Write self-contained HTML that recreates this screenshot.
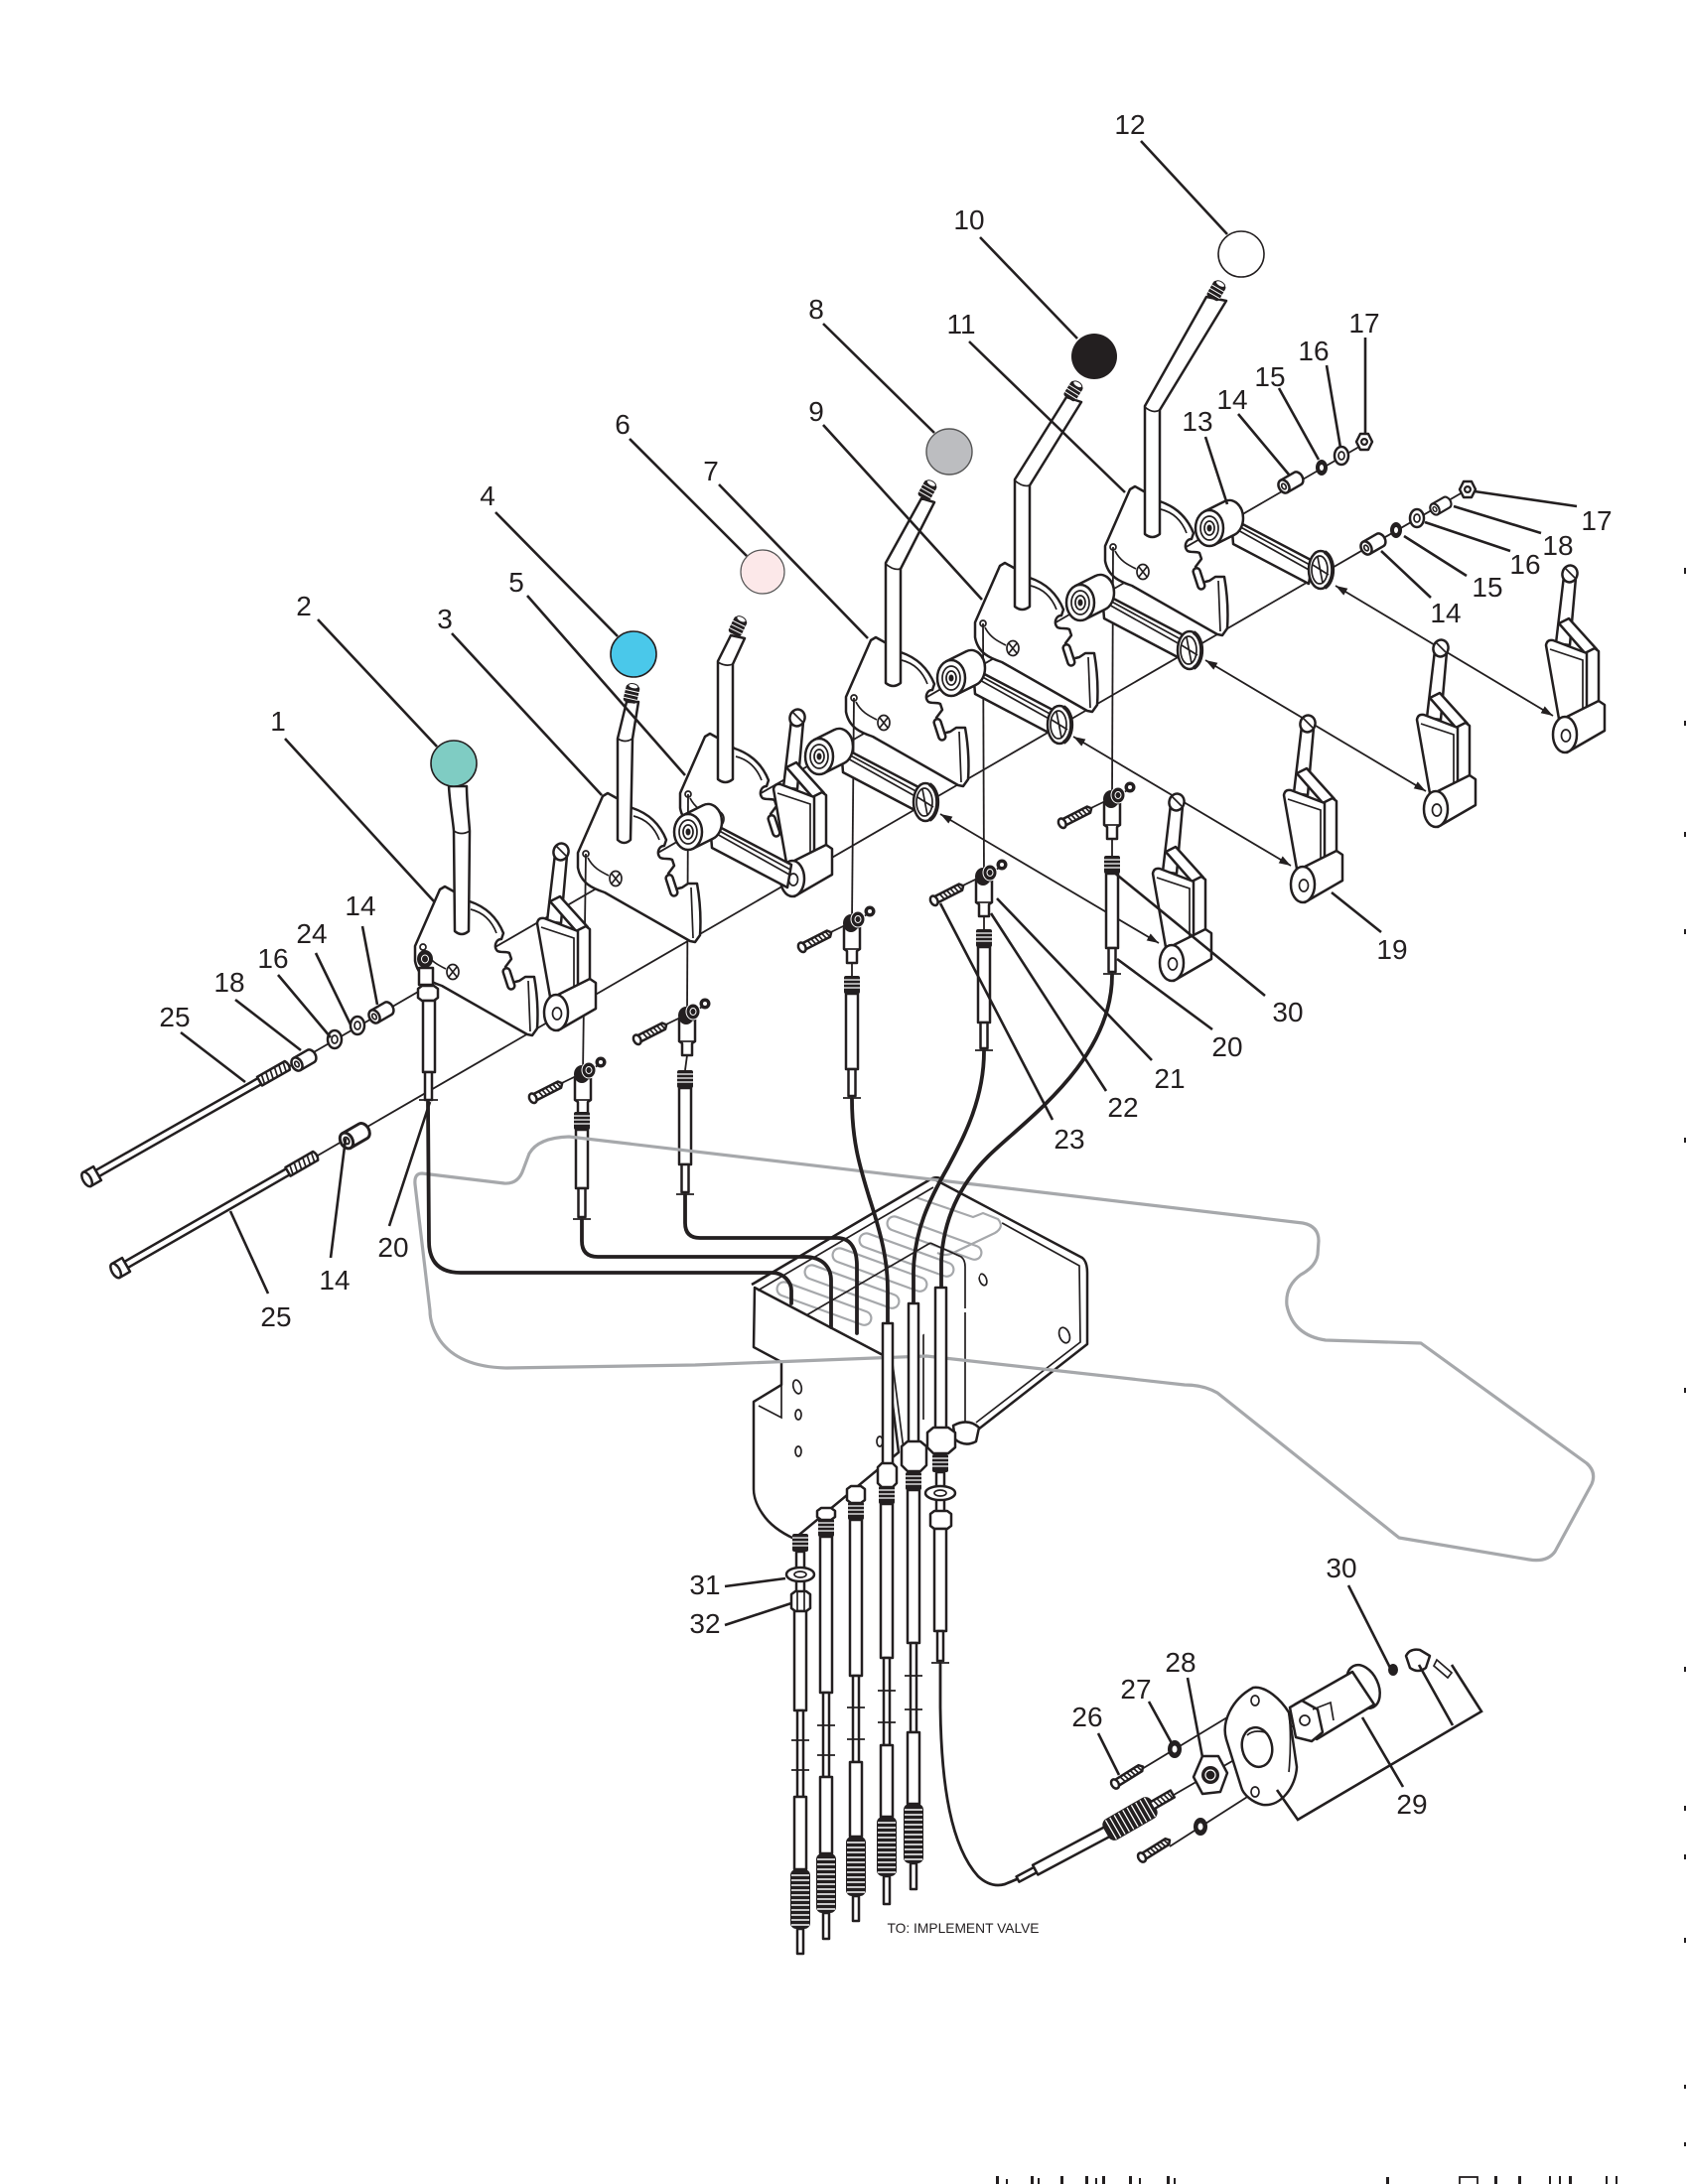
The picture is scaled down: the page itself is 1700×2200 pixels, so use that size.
<!DOCTYPE html>
<html><head><meta charset="utf-8"><style>
html,body{margin:0;padding:0;background:#fff}
svg{display:block}
.o{fill:#fff;stroke:#231f20;stroke-width:2.5;stroke-linejoin:round}
.t{fill:none;stroke:#231f20;stroke-width:1.7}
.l{fill:none;stroke:#231f20;stroke-width:2.6}
.a{fill:none;stroke:#231f20;stroke-width:1.8}
.c{fill:none;stroke:#231f20;stroke-width:3.8;stroke-linecap:round;stroke-linejoin:round}
.d{fill:#231f20}
.g{fill:none;stroke:#a6a8ab;stroke-width:3.2;stroke-linejoin:round}
.gs{fill:none;stroke:#a6a8ab;stroke-width:2.2}
text{font-family:"Liberation Sans",sans-serif;font-size:28px;fill:#231f20;text-anchor:middle}
.sm{font-size:14px}
</style></head><body>
<svg width="1700" height="2200" viewBox="0 0 1700 2200" xmlns="http://www.w3.org/2000/svg">
<defs>
<marker id="ae" markerWidth="14" markerHeight="10" refX="12" refY="4" orient="auto" markerUnits="userSpaceOnUse"><path d="M0,0 L12,4 L0,8 Z" fill="#231f20"/></marker>
<marker id="as" markerWidth="14" markerHeight="10" refX="0" refY="4" orient="auto" markerUnits="userSpaceOnUse"><path d="M12,0 L0,4 L12,8 Z" fill="#231f20"/></marker>
<g id="plate">
<path class="o" d="M0,0 L5,-3 L14,2 L30,12 C42,16 56,24 64,44 L62,50 C56,50 54,58 58,62 C62,64 66,62 70,64 L72,70 L66,78 L72,94 L80,92 L86,88 L95,88 C98,105 99,125 98,140 L93,147 L88,146 L2,97 C-10,93 -22,88 -25,72 L-25,57 Z"/>
<path class="t" d="M31,20 C43,23 52,31 57,44"/>
<path class="t" d="M89,92 L91,143"/>
<rect class="o" x="66" y="79" width="7" height="22" rx="3.5" transform="rotate(-18 69 90)"/>
<circle class="t" cx="-17" cy="58" r="3"/>
<path class="t" d="M-15,62 C-10,72 -2,76 6,80"/>
<ellipse class="t" cx="13" cy="83" rx="6" ry="7.5"/>
<path class="t" d="M9,78 L17,88 M17,78 L9,88"/>
</g>
<g id="hub">
<path class="o" d="M22,-10 L104,33 L100,56 L24,16 Z"/>
<path class="t" d="M26,-4 L103,38 M27,1 L102,43"/>
<path class="o" d="M-5.1,-16.8 L14.9,-26.8 A14,18 0 0 1 34,-10 A14,18 0 0 1 25.1,6.8 L5.1,16.8 Z"/>
<ellipse class="o" cx="0" cy="0" rx="14" ry="18"/>
<ellipse class="t" cx="0" cy="0" rx="9" ry="12"/>
<ellipse class="t" cx="0" cy="0" rx="5" ry="7"/>
<ellipse class="d" cx="0" cy="0" rx="2.5" ry="3.5"/>
</g>
<g id="disc">
<ellipse class="o" cx="0" cy="0" rx="12" ry="19"/>
<path d="M4,-18 A12,19 0 0 1 4,18" fill="none" stroke="#231f20" stroke-width="4"/>
<ellipse class="t" cx="-1" cy="0" rx="8" ry="14"/>
<path class="t" d="M-8,-5 L8,5 M-3,-13 L2,13"/>
</g>
<g id="brk">
<path class="o" d="M-9,-92 L-1,-160 L11,-158 L5,-90 Z"/>
<ellipse class="o" cx="5" cy="-162" rx="7.5" ry="8.5" transform="rotate(15 5 -162)"/>
<path class="t" d="M0,-168 L10,-158"/>
<path class="o" d="M-6,-112 L4,-117 L32,-86 L22,-80 Z"/>
<path class="o" d="M20,-82 L30,-87 L34,-84 L34,-6 L22,-2 Z"/>
<path class="o" d="M-19,-90 Q-18,-96 -12,-95 L22,-82 L22,-12 L-6,-16 Z"/>
<path class="t" d="M-15,-86 L18,-75 L18,-14"/>
<path class="o" d="M-2,-16 L34,-34 L40,-30 L40,-4 L2,18 Z"/>
<ellipse class="o" cx="0" cy="0" rx="12" ry="18"/>
<ellipse class="t" cx="1" cy="1" rx="4.5" ry="6"/>
</g>
<g id="sp">
<path class="o" d="M0,-7 L16,-7 A5,7 0 0 1 16,7 L0,7 Z"/>
<ellipse class="o" cx="0" cy="0" rx="5" ry="7"/>
<ellipse class="t" cx="0" cy="0" rx="2" ry="3"/>
</g>
<g id="wr"><ellipse class="o" rx="7" ry="9"/><ellipse class="t" rx="3" ry="4"/></g>
<g id="wd"><ellipse class="d" rx="6" ry="8"/><ellipse fill="#fff" rx="2" ry="3"/></g>
<g id="nut"><path class="o" d="M-4,-8 L4,-8 L8,0 L4,8 L-4,8 L-8,0 Z"/><circle class="d" r="4"/><circle fill="#fff" r="1.8"/></g>
<g id="bolt">
<path class="o" d="M0,-3.5 L190,-3.5 L190,3.5 L0,3.5 Z"/>
<path class="o" d="M188,-5 L220,-5 Q223,0 220,5 L188,5 Z"/>
<path class="t" d="M193,-5 L191,5 M198,-5 L196,5 M203,-5 L201,5 M208,-5 L206,5 M213,-5 L211,5 M218,-5 L216,5"/>
<path class="o" d="M-12,-8 L0,-8 L0,8 L-12,8 Z"/>
<ellipse class="o" cx="-12" cy="0" rx="4" ry="8"/>
</g>
<g id="scr">
<path class="o" d="M0,-3.5 L30,-3.5 L33,0 L30,3.5 L0,3.5 Z"/>
<ellipse class="o" cx="0" cy="0" rx="3.5" ry="5"/>
<path class="t" d="M8,-3.5 l2,7 M12,-3.5 l2,7 M16,-3.5 l2,7 M20,-3.5 l2,7 M24,-3.5 l2,7 M28,-3.5 l2,7"/>
</g>
<g id="bj">
<line class="a" x1="-50" y1="23" x2="22" y2="-12"/>
<g transform="translate(-36,17) rotate(-27)"><use href="#scr" x="-16" y="0"/></g>
<path class="o" d="M-8,4 L-8,26 L-5,28 L-5,40 L5,40 L5,28 L8,26 L8,4 Z"/>
<line class="t" x1="-8" y1="26" x2="8" y2="26"/>
<ellipse cx="-1" cy="0" rx="8" ry="9" fill="#231f20"/>
<ellipse cx="6" cy="-4" rx="7" ry="8" fill="#231f20" stroke="#fff" stroke-width="1"/>
<ellipse cx="6" cy="-4" rx="3" ry="3.5" fill="none" stroke="#fff" stroke-width="1"/>
<circle cx="18" cy="-12" r="5.5" fill="#231f20"/>
<circle cx="18" cy="-12" r="2" fill="#fff"/>
</g>
<g id="fit"><rect x="-8" y="0" width="16" height="18" rx="2" class="d"/><path d="M-8,4H8M-8,8H8M-8,12H8" stroke="#fff" stroke-width="1.2"/></g>
<g id="boot"><rect x="-10" y="0" width="20" height="60" rx="6" class="d"/><path d="M-9,6H9M-9,11H9M-9,16H9M-9,21H9M-9,26H9M-9,31H9M-9,36H9M-9,41H9M-9,46H9M-9,51H9M-9,56H9" stroke="#fff" stroke-width="1.4"/></g>
<g id="tip"><rect x="-7" y="-9" width="14" height="18" rx="3" class="d"/><path d="M-7,-3 H7 M-7,1 H7 M-7,5 H7" stroke="#fff" stroke-width="1"/><ellipse cx="0" cy="-8" rx="5" ry="2.5" fill="#fff" stroke="#231f20" stroke-width="1"/></g>
</defs>

<!-- axis lines -->
<line class="a" x1="283" y1="1079" x2="1374" y2="447"/>
<line class="a" x1="313" y1="1168" x2="1478" y2="493"/>

<!-- arrow lines to brackets -->
<line class="a" x1="947" y1="820" x2="1167" y2="950" marker-start="url(#as)" marker-end="url(#ae)"/>
<line class="a" x1="1081" y1="742" x2="1300" y2="872" marker-start="url(#as)" marker-end="url(#ae)"/>
<line class="a" x1="1214" y1="665" x2="1436" y2="797" marker-start="url(#as)" marker-end="url(#ae)"/>
<line class="a" x1="1345" y1="590" x2="1564" y2="721" marker-start="url(#as)" marker-end="url(#ae)"/>

<!-- lever assemblies back to front -->
<use href="#plate" x="1138" y="493"/>
<line class="a" x1="1121" y1="551" x2="1120" y2="805"/>
<use href="#hub" x="1218" y="532"/>
<use href="#disc" x="1330" y="574"/>
<use href="#plate" x="1007" y="570"/>
<line class="a" x1="990" y1="628" x2="991" y2="883"/>
<use href="#hub" x="1088" y="607"/>
<use href="#disc" x="1198" y="655"/>
<use href="#plate" x="877" y="645"/>
<line class="a" x1="860" y1="703" x2="858" y2="930"/>
<use href="#hub" x="958" y="683"/>
<use href="#disc" x="1067" y="730"/>
<use href="#plate" x="710" y="742"/>
<line class="a" x1="693" y1="800" x2="692" y2="1023"/>
<use href="#brk" x="798" y="885"/>
<use href="#hub" x="825" y="762"/>
<use href="#disc" x="932" y="808"/>
<use href="#plate" x="607" y="802"/>
<line class="a" x1="590" y1="860" x2="587" y2="1082"/>
<use href="#hub" x="693" y="838"/>
<use href="#plate" x="443" y="896"/>
<use href="#brk" x="560" y="1020"/>

<!-- brackets 19 row -->
<use href="#brk" x="1576" y="740"/>
<use href="#brk" x="1446" y="815"/>
<use href="#brk" x="1312" y="891"/>
<use href="#brk" x="1180" y="970"/>

<!-- rods -->
<path class="o" d="M452,792 C453,810 456,825 457,837 L458,938 Q465,944 472,938 L473,837 C472,822 470,808 470,792 Z"/>
<path class="t" d="M457,837 Q465,842 473,837"/>
<path class="o" d="M631,707 L622,744 L622,846 Q628.5,852 635,846 L637,744 L643,707 Z"/>
<path class="t" d="M622,744 Q630,749 637,744"/>
<path class="o" d="M736,640 L723,666 L723,785 Q730.5,791 738,785 L738,669 L750,643 Z"/>
<path class="t" d="M723,667 Q731,672 738,669"/>
<path class="o" d="M928,502 L892,567 L892,688 Q899.5,694 907,688 L907,573 L941,506 Z"/>
<path class="t" d="M892,568 Q900,575 907,573"/>
<path class="o" d="M1074,400 L1022,483 L1022,611 Q1029.5,617 1037,611 L1037,489 L1089,405 Z"/>
<path class="t" d="M1022,484 Q1030,491 1037,489"/>
<path class="o" d="M1215,299 L1153,409 L1153,538 Q1160.5,544 1168,538 L1168,413 L1235,303 Z"/>
<path class="t" d="M1153,410 Q1161,417 1168,413"/>
<use href="#tip" transform="translate(636,699) rotate(13)"/>
<use href="#tip" transform="translate(743,631) rotate(26)"/>
<use href="#tip" transform="translate(934,494) rotate(29)"/>
<use href="#tip" transform="translate(1081,394) rotate(32)"/>
<use href="#tip" transform="translate(1225,293) rotate(30)"/>

<!-- knobs -->
<circle cx="457" cy="769" r="23" fill="#7fccc3" stroke="#231f20" stroke-width="1.6"/>
<circle cx="638" cy="659" r="23" fill="#4ac8ea" stroke="#231f20" stroke-width="1.6"/>
<circle cx="768" cy="576" r="22" fill="#fce8e9" stroke="#555" stroke-width="1.2"/>
<circle cx="956" cy="455" r="23" fill="#bcbdc0" stroke="#555" stroke-width="1.4"/>
<circle cx="1102" cy="359" r="23" fill="#231f20"/>
<circle cx="1250" cy="256" r="23" fill="#fff" stroke="#231f20" stroke-width="1.6"/>

<!-- ball joint clusters -->
<use href="#bj" x="587" y="1082"/>
<use href="#bj" x="692" y="1023"/>
<use href="#bj" x="858" y="930"/>
<use href="#bj" x="991" y="883"/>
<use href="#bj" x="1120" y="805"/>
<!-- lever A joint -->
<path class="o" d="M422,975 L422,992 L436,992 L436,975 Z"/>
<ellipse cx="428" cy="966" rx="8" ry="9" fill="#231f20"/>
<ellipse cx="428" cy="966" rx="3.5" ry="4" fill="none" stroke="#fff"/>
<path class="o" d="M421,996 L425,993 L437,993 L441,996 L441,1005 L437,1008 L425,1008 L421,1005 Z"/>
<rect class="o" x="426" y="1008" width="12" height="72"/>
<rect class="o" x="428" y="1080" width="7" height="28"/>
<line class="t" x1="422" y1="1108" x2="441" y2="1108"/>

<!-- fittings under clusters -->
<line class="a" x1="692" y1="1063" x2="690" y2="1078"/>
<line class="a" x1="858" y1="970" x2="858" y2="983"/>
<line class="a" x1="991" y1="923" x2="991" y2="936"/>
<line class="a" x1="1120" y1="845" x2="1120" y2="862"/>
<use href="#fit" x="586" y="1120"/>
<rect class="o" x="580" y="1138" width="12" height="59"/><rect class="o" x="582.5" y="1197" width="7" height="29"/><line class="t" x1="577" y1="1228" x2="595" y2="1228"/>
<use href="#fit" x="690" y="1078"/>
<rect class="o" x="684" y="1096" width="12" height="77"/><rect class="o" x="686.5" y="1173" width="7" height="28"/><line class="t" x1="681" y1="1203" x2="699" y2="1203"/>
<use href="#fit" x="858" y="983"/>
<rect class="o" x="852" y="1001" width="12" height="76"/><rect class="o" x="854.5" y="1077" width="7" height="27"/><line class="t" x1="849" y1="1106" x2="867" y2="1106"/>
<use href="#fit" x="991" y="936"/>
<rect class="o" x="985" y="954" width="12" height="76"/><rect class="o" x="987.5" y="1030" width="7" height="26"/><line class="t" x1="982" y1="1058" x2="1000" y2="1058"/>
<use href="#fit" x="1120" y="862"/>
<rect class="o" x="1114" y="880" width="12" height="75"/><rect class="o" x="1116.5" y="955" width="7" height="24"/><line class="t" x1="1111" y1="981" x2="1129" y2="981"/>

<!-- small hardware -->
<use href="#sp" transform="translate(377,1024) rotate(-30)"/>
<use href="#wr" x="360" y="1033"/>
<use href="#wr" x="337" y="1047"/>
<use href="#sp" transform="translate(299,1072) rotate(-30)"/>
<use href="#sp" transform="translate(349,1149) rotate(-30) scale(1.2)"/>
<use href="#sp" transform="translate(1293,490) rotate(-30)"/>
<use href="#wd" x="1331" y="471"/>
<use href="#wr" x="1351" y="459"/>
<use href="#nut" x="1374" y="445"/>
<use href="#sp" transform="translate(1376,552) rotate(-30)"/>
<use href="#wd" x="1406" y="534"/>
<use href="#wr" x="1427" y="522"/>
<use href="#sp" transform="translate(1445,513) rotate(-30) scale(0.85)"/>
<use href="#nut" x="1478" y="493"/>
<use href="#bolt" transform="translate(98,1182) rotate(-29.6)"/>
<use href="#bolt" transform="translate(127,1274) rotate(-29.9)"/>

<!-- box bracket -->
<path fill="#fff" d="M943,1190 L1090,1268 Q1095,1272 1095,1282 L1095,1354 L985,1440 L930,1430 L930,1230 Z"/>
<path class="o" style="fill:none" d="M943,1189 L1090,1267 Q1095,1271 1095,1282 L1095,1354 L985,1440"/>
<path class="t" d="M946,1197 L1087,1275 L1088,1352 L983,1433"/>
<path class="t" d="M972,1322 L972,1437 M930,1340 L930,1430"/>
<path class="o" d="M960,1436 Q975,1428 986,1438 L983,1452 Q972,1458 962,1450 Z"/>
<ellipse class="t" cx="990" cy="1289" rx="3.5" ry="6" transform="rotate(-20 990 1289)"/>
<ellipse class="t" cx="1072" cy="1345" rx="5" ry="8" transform="rotate(-20 1072 1345)"/>
<path fill="#fff" d="M760,1296 L940,1192 L1010,1230 L972,1318 L893,1367 Z"/>
<g class="gs">
<rect x="0" y="-7" width="100" height="14" rx="7" transform="translate(783,1296) rotate(20)"/>
<rect x="0" y="-7" width="100" height="14" rx="7" transform="translate(811,1279) rotate(20)"/>
<rect x="0" y="-7" width="100" height="14" rx="7" transform="translate(839,1262) rotate(20)"/>
<rect x="0" y="-7" width="100" height="14" rx="7" transform="translate(866,1247) rotate(20)"/>
<rect x="0" y="-7" width="100" height="14" rx="7" transform="translate(894,1230) rotate(20)"/>
<path d="M922,1206 L980,1226 L990,1222 L1005,1228 Q1012,1236 1002,1242 L960,1262 Q952,1266 944,1262"/>
</g>
<path class="t" d="M812,1325 L937,1252 M937,1252 L968,1266 Q972,1269 972,1276 L972,1318"/>
<path class="o" d="M760,1297 L893,1367 L905,1463 L800,1550 Q778,1540 768,1525 Q759,1512 759,1500 L759,1412 L787,1395 L787,1372 L759,1357 Z"/>
<path class="t" d="M787,1395 L787,1428 L764,1416"/>
<path class="t" d="M898,1366 L910,1460"/>
<path d="M757,1294 L937,1188 Q944,1184 950,1189" fill="none" stroke="#231f20" stroke-width="2.6"/>
<path class="t" d="M763,1300 L940,1196"/>
<ellipse class="t" cx="803" cy="1397" rx="4" ry="7" transform="rotate(-15 803 1397)"/>
<ellipse class="t" cx="804" cy="1425" rx="3" ry="5"/>
<ellipse class="t" cx="804" cy="1462" rx="3" ry="5"/>
<ellipse class="t" cx="886" cy="1452" rx="3" ry="5"/>

<!-- gray outline -->
<path class="g" d="M425,1182 L508,1192 Q522,1193 527,1178 L533,1162 Q542,1146 573,1145 L1312,1232 Q1328,1235 1328,1250 L1327,1264 Q1325,1276 1310,1284 Q1294,1296 1296,1315 Q1302,1345 1335,1350 L1431,1353 L1598,1474 Q1608,1483 1603,1495 L1566,1563 Q1558,1574 1540,1571 L1409,1549 L1226,1403 Q1212,1395 1193,1395 L933,1366 L700,1375 L510,1378 Q462,1377 443,1350 Q433,1335 433,1320 L418,1193 Q417,1182 425,1182 Z"/>

<!-- cables -->
<path class="c" d="M431,1110 L432,1250 Q432,1282 464,1282 L777,1282 C790,1282 797,1292 797,1300 L797,1313"/>
<path class="c" d="M586,1229 L586,1250 Q586,1266 602,1266 L810,1266 C830,1266 837,1278 837,1290 L837,1337"/>
<path class="c" d="M690,1204 L690,1232 Q690,1247 705,1247 L843,1247 C858,1247 863,1260 863,1275 L863,1343"/>
<path class="c" d="M858,1107 C858,1150 866,1175 875,1205 C888,1245 894,1270 894,1300 L894,1333"/>
<path class="c" d="M991,1059 C991,1110 968,1150 955,1175 C935,1210 921,1240 920,1280 L920,1313"/>
<path class="c" d="M1120,982 C1120,1070 1030,1130 995,1165 C965,1195 950,1230 948,1270 L948,1297"/>
<rect class="o" x="889" y="1333" width="10" height="142"/>
<rect class="o" x="915" y="1313" width="10" height="142"/>
<rect class="o" x="942" y="1297" width="11" height="143"/>
<path class="o" d="M884,1478 L888,1474 L899,1474 L903,1478 L903,1494 L899,1498 L888,1498 L884,1494 Z"/>
<path class="o" d="M908,1457 L914,1452 L927,1452 L933,1457 L933,1476 L927,1482 L914,1482 L908,1476 Z"/>
<path class="o" d="M934,1443 L940,1438 L955,1438 L962,1443 L962,1458 L955,1464 L940,1464 L934,1458 Z"/>
<path class="o" d="M853,1500 L857,1497 L867,1497 L871,1500 L871,1511 L867,1514 L857,1514 L853,1511 Z"/>
<path class="o" d="M823,1522 L827,1519 L837,1519 L841,1522 L841,1528 L837,1531 L827,1531 L823,1528 Z"/>

<!-- cable columns under box -->
<use href="#fit" x="806" y="1545"/>
<rect class="o" x="802" y="1563" width="8" height="60"/>
<ellipse class="o" cx="806" cy="1586" rx="14" ry="7"/><ellipse class="t" cx="806" cy="1586" rx="6" ry="3"/>
<path class="o" d="M797,1606 L801,1603 L812,1603 L816,1606 L816,1620 L812,1623 L801,1623 L797,1620 Z"/>
<path class="t" d="M803,1604 L803,1622 M810,1604 L810,1622"/>
<rect class="o" x="800" y="1623" width="12" height="100"/>
<rect class="o" x="803" y="1723" width="6" height="87"/>
<line class="t" x1="797" y1="1753" x2="815" y2="1753"/><line class="t" x1="797" y1="1783" x2="815" y2="1783"/>
<rect class="o" x="800" y="1810" width="12" height="73"/>
<use href="#boot" x="806" y="1883"/>
<rect class="o" x="803" y="1943" width="6" height="25"/>

<use href="#fit" x="832" y="1530"/>
<rect class="o" x="826" y="1548" width="12" height="157"/>
<rect class="o" x="829" y="1705" width="6" height="85"/>
<line class="t" x1="823" y1="1738" x2="841" y2="1738"/><line class="t" x1="823" y1="1768" x2="841" y2="1768"/>
<rect class="o" x="826" y="1790" width="12" height="77"/>
<use href="#boot" x="832" y="1867"/>
<rect class="o" x="829" y="1927" width="6" height="26"/>

<use href="#fit" x="862" y="1513"/>
<rect class="o" x="856" y="1531" width="12" height="157"/>
<rect class="o" x="859" y="1688" width="6" height="87"/>
<line class="t" x1="853" y1="1720" x2="871" y2="1720"/><line class="t" x1="853" y1="1752" x2="871" y2="1752"/>
<rect class="o" x="856" y="1775" width="12" height="75"/>
<use href="#boot" x="862" y="1850"/>
<rect class="o" x="859" y="1910" width="6" height="25"/>

<use href="#fit" x="893" y="1497"/>
<rect class="o" x="887" y="1515" width="12" height="155"/>
<rect class="o" x="890" y="1670" width="6" height="88"/>
<line class="t" x1="884" y1="1703" x2="902" y2="1703"/><line class="t" x1="884" y1="1735" x2="902" y2="1735"/>
<rect class="o" x="887" y="1758" width="12" height="72"/>
<use href="#boot" x="893" y="1830"/>
<rect class="o" x="890" y="1890" width="6" height="28"/>

<use href="#fit" x="920" y="1483"/>
<rect class="o" x="914" y="1501" width="12" height="154"/>
<rect class="o" x="917" y="1655" width="6" height="90"/>
<line class="t" x1="911" y1="1688" x2="929" y2="1688"/><line class="t" x1="911" y1="1722" x2="929" y2="1722"/>
<rect class="o" x="914" y="1745" width="12" height="72"/>
<use href="#boot" x="920" y="1817"/>
<rect class="o" x="917" y="1877" width="6" height="26"/>

<use href="#fit" x="947" y="1465"/>
<rect class="o" x="943" y="1483" width="8" height="40"/>
<ellipse class="o" cx="947" cy="1504" rx="15" ry="7"/><ellipse class="t" cx="947" cy="1504" rx="6" ry="3"/>
<path class="o" d="M937,1525 L941,1522 L954,1522 L958,1525 L958,1537 L954,1540 L941,1540 L937,1537 Z"/>
<rect class="o" x="941" y="1540" width="12" height="103"/>
<rect class="o" x="944" y="1643" width="6" height="30"/>
<line class="t" x1="938" y1="1675" x2="956" y2="1675"/>
<path class="c" style="stroke-width:2.8" d="M947,1675 L947,1720 C948,1800 958,1860 985,1890 Q998,1902 1012,1898 L1024,1893"/>

<!-- part 29 assembly -->
<path class="a" d="M1150,1782 L1264,1713 M1178,1860 L1264,1805 M1170,1815 L1312,1733"/>
<g transform="translate(1025,1893) rotate(-28)">
<rect class="o" x="0" y="-3" width="20" height="6"/>
<rect class="o" x="20" y="-5.5" width="83" height="11"/>
</g>
<g transform="translate(1138,1832) rotate(-30)">
<rect x="-28" y="-12" width="56" height="24" rx="7" class="d"/>
<path d="M-22,-11V11M-17,-11V11M-12,-11V11M-7,-11V11M-2,-11V11M3,-11V11M8,-11V11M13,-11V11M18,-11V11M23,-11V11" stroke="#fff" stroke-width="1.3"/>
</g>
<g transform="translate(1160,1819) rotate(-30)">
<rect class="o" x="0" y="-4" width="24" height="8"/>
<path class="t" d="M4,-4 l2,8 M8,-4 l2,8 M12,-4 l2,8 M16,-4 l2,8 M20,-4 l2,8"/>
</g>
<use href="#scr" transform="translate(1123,1797) rotate(-32)"/>
<use href="#scr" transform="translate(1150,1871) rotate(-32)"/>
<g transform="translate(1183,1762)"><ellipse rx="7" ry="9" class="d"/><ellipse rx="2.5" ry="3.5" fill="#fff"/></g>
<g transform="translate(1209,1840)"><ellipse rx="7" ry="9" class="d"/><ellipse rx="2.5" ry="3.5" fill="#fff"/></g>
<path class="o" d="M1262,1700 C1275,1698 1290,1712 1298,1725 L1306,1780 C1305,1800 1290,1820 1272,1818 C1262,1816 1252,1808 1250,1800 L1235,1752 C1230,1735 1240,1712 1262,1700 Z"/>
<path class="t" d="M1298,1725 C1300,1740 1300,1765 1298,1785"/>
<ellipse class="o" cx="1266" cy="1760" rx="15" ry="20" transform="rotate(-12 1266 1760)"/>
<path class="t" d="M1256,1748 Q1262,1742 1274,1745"/>
<ellipse class="t" cx="1264" cy="1713" rx="4" ry="5"/>
<ellipse class="t" cx="1264" cy="1805" rx="4" ry="5"/>
<g transform="translate(1219,1788)"><path class="o" d="M-8,-19 L8,-19 L17,-2 L10,17 L-8,19 L-17,2 Z"/><circle r="9" fill="#231f20"/><circle r="5" fill="none" stroke="#fff" stroke-width="1.2"/></g>
<ellipse class="o" cx="1373" cy="1699" rx="15" ry="23" transform="rotate(-25 1373 1699)"/>
<path class="o" d="M1304,1717 L1362,1684 L1384,1717 L1326,1752 Z"/>
<path class="o" d="M1299,1720 L1311,1713 L1327,1722 L1332,1745 L1321,1754 L1305,1750 Z"/>
<circle class="t" cx="1314" cy="1733" r="5"/>
<path class="t" d="M1322,1722 L1340,1715 L1343,1733"/>
<ellipse cx="1403" cy="1682" rx="5" ry="6" fill="#231f20"/>
<path class="o" d="M1416,1668 Q1420,1660 1430,1662 L1440,1668 L1436,1680 Q1428,1686 1420,1680 Z"/>
<path class="t" d="M1447,1672 L1462,1685 L1458,1690 L1444,1678 Z"/>
<path class="l" d="M1286,1803 L1307,1833 L1492,1724 L1462,1677 M1429,1677 L1463,1738"/>

<!-- leaders -->
<g class="l">
<line x1="1149" y1="142" x2="1236" y2="236"/>
<line x1="987" y1="239" x2="1085" y2="341"/>
<line x1="829" y1="326" x2="941" y2="436"/>
<line x1="976" y1="344" x2="1133" y2="496"/>
<line x1="829" y1="428" x2="989" y2="604"/>
<line x1="634" y1="442" x2="752" y2="560"/>
<line x1="724" y1="488" x2="874" y2="643"/>
<line x1="499" y1="516" x2="622" y2="641"/>
<line x1="531" y1="600" x2="690" y2="781"/>
<line x1="455" y1="638" x2="606" y2="801"/>
<line x1="320" y1="624" x2="440" y2="752"/>
<line x1="287" y1="744" x2="437" y2="908"/>
<line x1="1214" y1="440" x2="1236" y2="508"/>
<line x1="1247" y1="417" x2="1298" y2="478"/>
<line x1="1288" y1="391" x2="1328" y2="463"/>
<line x1="1336" y1="368" x2="1350" y2="451"/>
<line x1="1375" y1="340" x2="1375" y2="437"/>
<line x1="1485" y1="495" x2="1588" y2="510"/>
<line x1="1464" y1="510" x2="1552" y2="537"/>
<line x1="1435" y1="526" x2="1521" y2="555"/>
<line x1="1414" y1="540" x2="1477" y2="580"/>
<line x1="1391" y1="555" x2="1441" y2="602"/>
<line x1="1341" y1="899" x2="1391" y2="939"/>
<line x1="1121" y1="878" x2="1274" y2="1003"/>
<line x1="1125" y1="966" x2="1221" y2="1037"/>
<line x1="1004" y1="905" x2="1160" y2="1068"/>
<line x1="998" y1="920" x2="1114" y2="1099"/>
<line x1="947" y1="910" x2="1060" y2="1128"/>
<line x1="365" y1="933" x2="380" y2="1012"/>
<line x1="318" y1="960" x2="353" y2="1032"/>
<line x1="280" y1="982" x2="333" y2="1045"/>
<line x1="237" y1="1007" x2="303" y2="1058"/>
<line x1="182" y1="1040" x2="247" y2="1090"/>
<line x1="392" y1="1235" x2="433" y2="1110"/>
<line x1="333" y1="1267" x2="348" y2="1147"/>
<line x1="270" y1="1303" x2="232" y2="1220"/>
<line x1="730" y1="1598" x2="791" y2="1590"/>
<line x1="730" y1="1637" x2="797" y2="1615"/>
<line x1="1358" y1="1597" x2="1400" y2="1680"/>
<line x1="1196" y1="1690" x2="1211" y2="1770"/>
<line x1="1157" y1="1714" x2="1180" y2="1756"/>
<line x1="1106" y1="1746" x2="1127" y2="1788"/>
<line x1="1413" y1="1800" x2="1372" y2="1730"/>
</g>

<!-- labels -->
<text x="1138" y="135">12</text>
<text x="976" y="231">10</text>
<text x="822" y="321">8</text>
<text x="968" y="336">11</text>
<text x="822" y="424">9</text>
<text x="627" y="437">6</text>
<text x="716" y="484">7</text>
<text x="491" y="509">4</text>
<text x="520" y="596">5</text>
<text x="448" y="633">3</text>
<text x="306" y="620">2</text>
<text x="280" y="736">1</text>
<text x="1374" y="335">17</text>
<text x="1323" y="363">16</text>
<text x="1279" y="389">15</text>
<text x="1241" y="412">14</text>
<text x="1206" y="434">13</text>
<text x="1608" y="534">17</text>
<text x="1569" y="559">18</text>
<text x="1536" y="578">16</text>
<text x="1498" y="601">15</text>
<text x="1456" y="627">14</text>
<text x="1402" y="966">19</text>
<text x="1297" y="1029">30</text>
<text x="1236" y="1064">20</text>
<text x="1178" y="1096">21</text>
<text x="1131" y="1125">22</text>
<text x="1077" y="1157">23</text>
<text x="363" y="922">14</text>
<text x="314" y="950">24</text>
<text x="275" y="975">16</text>
<text x="231" y="999">18</text>
<text x="176" y="1034">25</text>
<text x="396" y="1266">20</text>
<text x="337" y="1299">14</text>
<text x="278" y="1336">25</text>
<text x="710" y="1606">31</text>
<text x="710" y="1645">32</text>
<text x="1351" y="1589">30</text>
<text x="1189" y="1684">28</text>
<text x="1144" y="1711">27</text>
<text x="1095" y="1739">26</text>
<text x="1422" y="1827">29</text>
<text class="sm" x="970" y="1947" textLength="153" lengthAdjust="spacingAndGlyphs">TO: IMPLEMENT VALVE</text>

<!-- edge artifacts -->
<g class="d">
<rect x="1696" y="572" width="2" height="6"/><rect x="1696" y="726" width="2" height="5"/><rect x="1696" y="838" width="2" height="5"/>
<rect x="1696" y="936" width="2" height="5"/><rect x="1696" y="1146" width="2" height="5"/><rect x="1696" y="1398" width="2" height="5"/>
<rect x="1696" y="1679" width="2" height="5"/><rect x="1696" y="1819" width="2" height="5"/><rect x="1696" y="1868" width="2" height="5"/>
<rect x="1696" y="1952" width="2" height="5"/><rect x="1696" y="2100" width="2" height="4"/><rect x="1696" y="2158" width="2" height="4"/>
<rect x="1003" y="2192" width="3" height="8"/><rect x="1013" y="2195" width="2" height="5"/><rect x="1038" y="2192" width="3" height="8"/>
<rect x="1045" y="2194" width="2" height="6"/><rect x="1068" y="2192" width="3" height="8"/><rect x="1093" y="2192" width="3" height="8"/>
<rect x="1103" y="2194" width="2" height="6"/><rect x="1110" y="2192" width="3" height="8"/><rect x="1137" y="2192" width="3" height="8"/>
<rect x="1147" y="2194" width="2" height="6"/><rect x="1175" y="2192" width="3" height="8"/><rect x="1182" y="2194" width="2" height="6"/>
<rect x="1396" y="2193" width="3" height="7"/><rect x="1505" y="2192" width="3" height="8"/><rect x="1529" y="2192" width="3" height="8"/>
<rect x="1560" y="2192" width="2" height="8"/><rect x="1570" y="2192" width="2" height="8"/><rect x="1580" y="2192" width="3" height="8"/>
<rect x="1617" y="2192" width="2" height="8"/><rect x="1627" y="2192" width="2" height="8"/>
</g>
<rect x="1470" y="2193" width="18" height="10" fill="none" stroke="#231f20" stroke-width="1.8"/>
</svg>
</body></html>
